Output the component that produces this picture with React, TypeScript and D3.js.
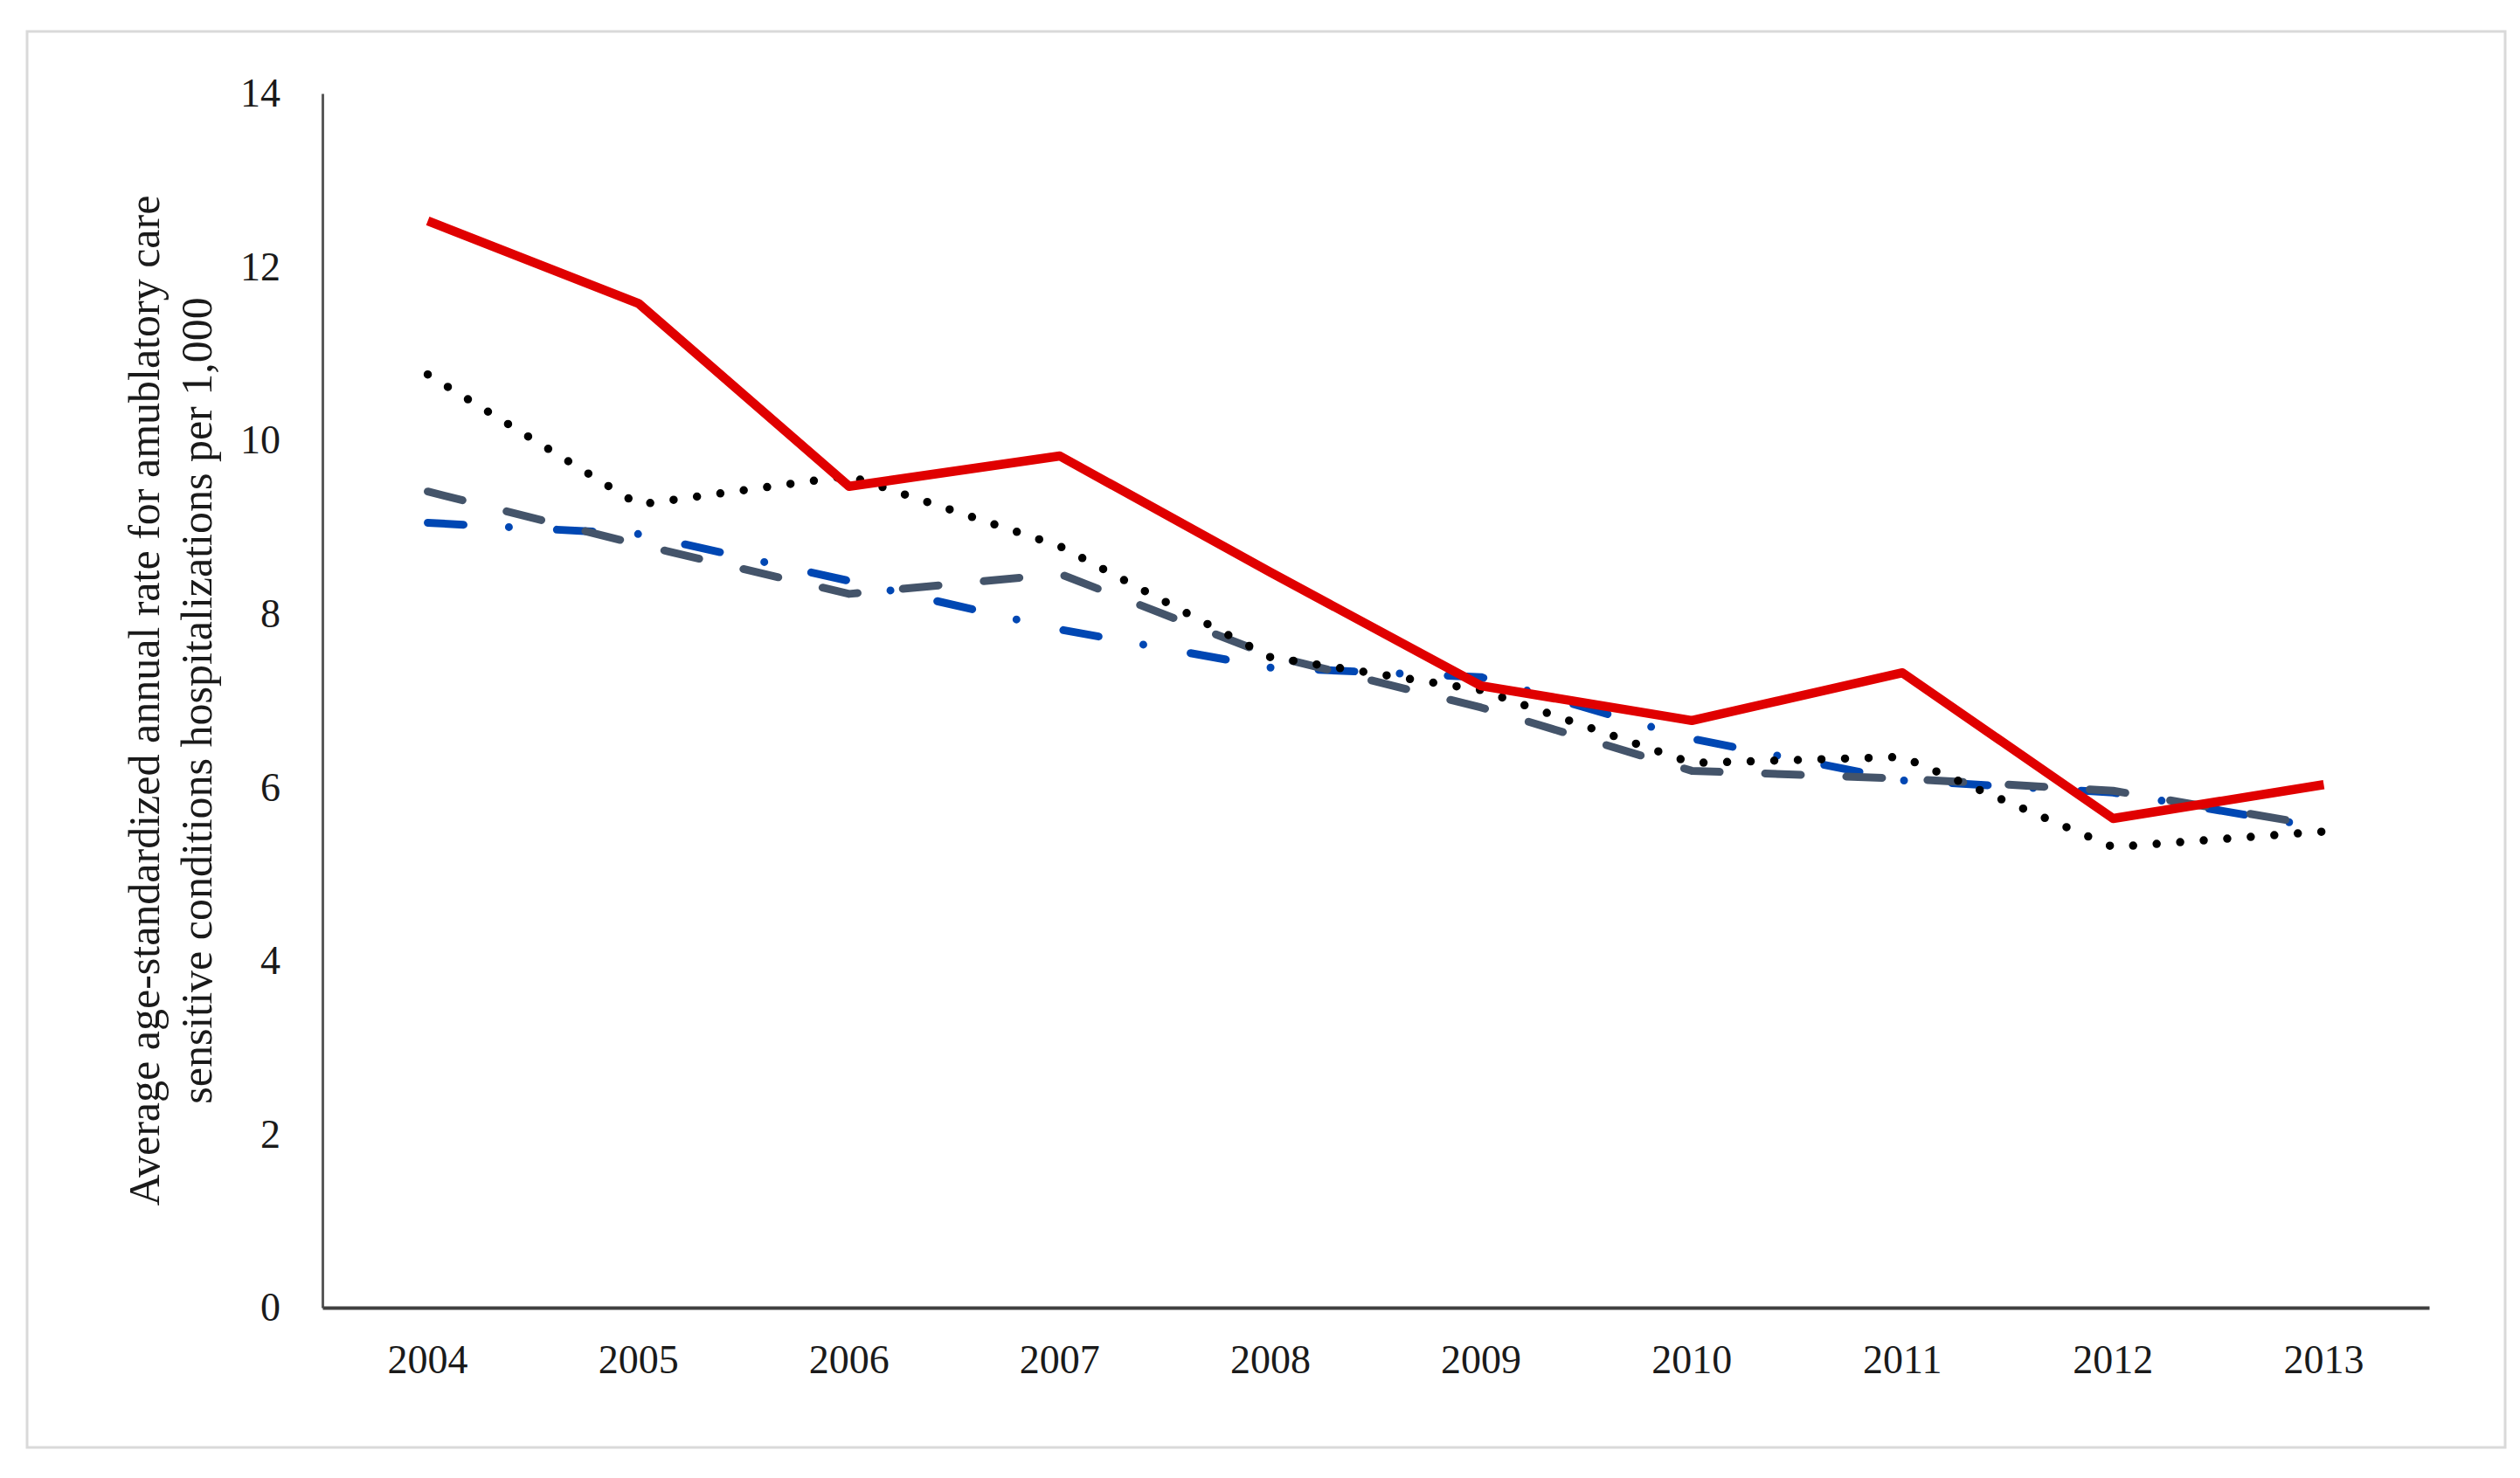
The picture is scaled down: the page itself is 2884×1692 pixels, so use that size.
import React, { useEffect, useRef } from "react";
import * as d3 from "d3";

const years = ["2004", "2005", "2006", "2007", "2008", "2009", "2010", "2011", "2012", "2013"];
const yTicks = [0, 2, 4, 6, 8, 10, 12, 14];

const solidRed = [12.53, 11.58, 9.47, 9.82, 8.48, 7.17, 6.77, 7.32, 5.64, 6.03];
const dottedBlack = [10.76, 9.26, 9.59, 8.78, 7.5, 7.12, 6.28, 6.35, 5.31, 5.49];
const dashedSlate = [9.41, 8.8, 8.23, 8.46, 7.52, 6.92, 6.19, 6.1, 5.96, 5.55];
const dashDotBlue = [9.05, 8.92, 8.38, 7.82, 7.38, 7.27, 6.56, 6.08, 5.94, 5.53];

const titleLines = [
  "Average age-standardized annual rate for amublatory care",
  "sensitive conditions hospitalizations per 1,000",
];

const series = [
  { values: dashDotBlue, color: "#0047b3", width: 9, dash: "41 52 0 55" },
  { values: dashedSlate, color: "#44546a", width: 9, dash: "41 52" },
  { values: dottedBlack, color: "#000000", width: 9.5, dash: "0 27" },
  { values: solidRed, color: "#e00000", width: 10.5, dash: null },
];

export default function App() {
  const ref = useRef<SVGSVGElement | null>(null);
  const width = 2884;
  const height = 1692;

  useEffect(() => {
    const svg = d3.select(ref.current);
    svg.selectAll("*").remove();

    const margin = { top: 107, right: 2780, bottom: 1497, left: 369 };
    const font = "'Liberation Serif', 'Times New Roman', serif";

    // light frame around the figure
    svg
      .append("rect")
      .attr("x", 31)
      .attr("y", 36)
      .attr("width", 2836)
      .attr("height", 1621)
      .attr("fill", "#fff")
      .attr("stroke", "#d9d9d9")
      .attr("stroke-width", 3);

    const x = d3.scaleBand<string>().domain(years).range([margin.left, margin.right]).padding(0);
    const y = d3.scaleLinear().domain([0, 14]).range([margin.bottom, margin.top]);

    const line = d3
      .line<number>()
      .x((_, i) => (x(years[i]) as number) + x.bandwidth() / 2)
      .y((d) => y(d));

    // y axis
    const gy = svg
      .append("g")
      .attr("transform", `translate(${margin.left},0)`)
      .call(d3.axisLeft(y).tickValues(yTicks).tickSize(0).tickPadding(48).tickFormat(d3.format("d")));
    gy.select(".domain").attr("stroke", "#595959").attr("stroke-width", 3);
    gy.selectAll("text")
      .attr("font-family", font)
      .attr("font-size", 46)
      .attr("fill", "#1a1a1a");

    // x axis
    const gx = svg
      .append("g")
      .attr("transform", `translate(0,${margin.bottom})`)
      .call(d3.axisBottom(x).tickSize(0).tickPadding(42));
    gx.select(".domain").attr("stroke", "#404040").attr("stroke-width", 4);
    gx.selectAll("text")
      .attr("font-family", font)
      .attr("font-size", 46)
      .attr("fill", "#1a1a1a");

    // lines
    series.forEach((s) => {
      const p = svg
        .append("path")
        .datum(s.values)
        .attr("fill", "none")
        .attr("stroke", s.color)
        .attr("stroke-width", s.width)
        .attr("stroke-linejoin", "round")
        .attr("stroke-linecap", s.dash ? "round" : "butt")
        .attr("d", line);
      if (s.dash) p.attr("stroke-dasharray", s.dash);
    });

    // y axis title
    const title = svg
      .append("text")
      .attr("transform", `translate(212,${(margin.top + margin.bottom) / 2}) rotate(-90)`)
      .attr("text-anchor", "middle")
      .attr("font-family", font)
      .attr("font-size", 50)
      .attr("fill", "#1a1a1a");
    titleLines.forEach((t, i) => {
      title
        .append("tspan")
        .attr("x", 0)
        .attr("dy", i === 0 ? -30 : 60)
        .text(t);
    });
  }, []);

  return (
    <svg
      ref={ref}
      width={width}
      height={height}
      style={{ position: "absolute", left: 0, top: 0, background: "#fff" }}
    />
  );
}
